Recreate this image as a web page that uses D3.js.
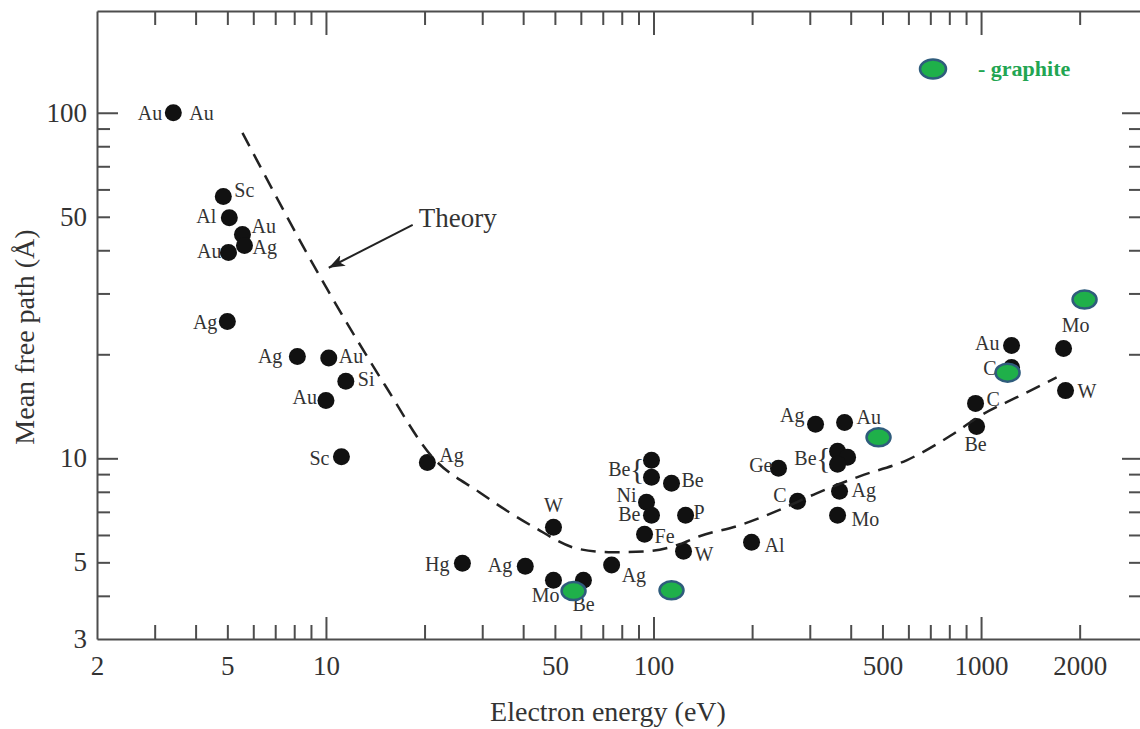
<!DOCTYPE html>
<html>
<head>
<meta charset="utf-8">
<script src="https://cdn.jsdelivr.net/npm/d3@7"></script>
<style>
  body { margin: 0; background: #fff; }
  svg text { font-family: "Liberation Serif", "Times New Roman", serif; }
</style>
</head>
<body>
<script>
var elements = ['Au', 'Sc', 'Al', 'Au', 'Ag', 'Au', 'Ag', 'Ag', 'Au', 'Si', 'Au', 'Sc', 'Ag', 'Hg', 'Ag', 'W', 'Mo', 'Be', 'Ag',
  'Be', 'Be', 'Be', 'Ni', 'Be', 'P', 'Fe', 'W', 'Ge', 'C', 'Al', 'Ag', 'Au', 'Be', 'Be', 'Be', 'Ag', 'Mo', 'C', 'Be', 'Au', 'C', 'Mo', 'W'];
var energies = [3.42, 4.86, 5.07, 5.56, 5.64, 5.04, 5.0, 8.18, 10.2, 11.5, 10.0, 11.15, 20.4, 26.1, 40.6, 49.5, 49.5, 61.1, 74.5,
  98.6, 98.6, 113.5, 95.2, 98.6, 125.3, 93.9, 123.5, 240.8, 275.3, 199.2, 312.4, 383.1, 364.7, 391.3, 364.7, 369.8, 364.7, 962, 969, 1239, 1239, 1786, 1811];
var paths = [100, 57.2, 49.7, 44.4, 41.3, 39.4, 24.9, 19.7, 19.5, 16.7, 14.7, 10.1, 9.73, 4.97, 4.87, 6.32, 4.44, 4.44, 4.91,
  9.87, 8.81, 8.47, 7.46, 6.84, 6.84, 6.03, 5.38, 9.36, 7.51, 5.72, 12.54, 12.7, 10.48, 10.07, 9.61, 8.03, 6.84, 14.42, 12.37, 21.2, 18.3, 20.8, 15.7];

// graphite points
var graphiteEnergies = [57.0, 113.5, 486.4, 1205, 2070];
var graphitePaths = [4.13, 4.15, 11.5, 17.7, 28.8];

// theory curve
var theoryEnergies = [5.56, 10.1, 15.1, 21.1, 29.4, 42.7, 59.4, 75.0, 95.2, 120.1, 138.2, 183.1, 237.4, 314.6, 425.6, 592.4, 801.5, 1011, 1283, 1701];
var theoryPaths = [87.5, 30.8, 16.35, 10.1, 7.98, 6.36, 5.46, 5.35, 5.38, 5.64, 5.95, 6.40, 7.03, 7.92, 8.87, 9.87, 11.58, 13.4, 15.0, 17.14];

var xTickLabels = [2, 5, 10, 50, 100, 500, 1000, 2000];
var yTickLabels = [3, 5, 10, 50, 100];

// label layout: [anchor, dx, dy] per point (null = brace group)
var labelLayout = [
  ['end', -11, 7], ['start', 11, 0], ['end', -13, 5], ['start', 9, -2], ['start', 8, 9], ['end', -7, 5], ['end', -10, 8],
  ['end', -15, 6], ['start', 10, 5], ['start', 12, 5], ['end', -9, 4], ['end', -12, 8], ['start', 12, 0], ['end', -13, 8],
  ['end', -13, 6], ['middle', 0, -15], ['end', 6, 22], ['start', -11, 31], ['start', 10, 17],
  null, null, ['start', 10, 4], ['end', -10, 0], ['end', -11, 6], ['start', 8, 4], ['start', 10, 9], ['start', 11, 10],
  ['end', -6, 4], ['end', -11, 1], ['start', 13, 10], ['end', -11, -2], ['start', 12, 2], null, null, null,
  ['start', 12, 6], ['start', 14, 11], ['start', 11, 3], ['middle', -1, 25], ['end', -12, 4], ['end', -15, 7],
  ['middle', 12, -16], ['start', 12, 7]
];
var braceGroups = [[19, 20], [32, 33, 34]];

var width = 1140, height = 729;
var x = d3.scaleLog().domain([2, 3100]).range([97, 1142]);
var y = d3.scaleLog().domain([3, 197]).range([639, 11]);

var svg = d3.select('body').append('svg')
  .attr('width', width)
  .attr('height', height);

var axisColor = '#4d4d4d', textColor = '#333';

// tick values
var xTicks = [], yTicks = [];
[1, 10, 100, 1000].forEach(function(d) {
  for (var m = 1; m < 10; m++) {
    var v = d * m;
    if (v > 2 && v <= 2000) xTicks.push(v);
    if (v > 3 && v < 197) yTicks.push(v);
  }
});
function isMajor(v) { return Math.abs(Math.log10(v) - Math.round(Math.log10(v))) < 1e-9; }

function styleAxis(g) {
  g.select('.domain').attr('stroke', axisColor).attr('stroke-width', 2);
  g.selectAll('.tick line').attr('stroke', axisColor).attr('stroke-width', 2);
  g.selectAll('.tick text').attr('fill', textColor).style('font-size', '27px')
    .style('font-family', '"Liberation Serif", "Times New Roman", serif');
}

var gx = svg.append('g').attr('transform', 'translate(0,' + y(3) + ')')
  .call(d3.axisBottom(x).tickValues(xTicks.concat([2])).tickSizeInner(-14).tickSizeOuter(0).tickPadding(17)
    .tickFormat(function(d) { return xTickLabels.indexOf(d) >= 0 ? d : ''; }));
styleAxis(gx);
gx.selectAll('.tick line').attr('y2', function(d) { return d === 2 ? 0 : (isMajor(d) ? -22 : -14); });

var gt = svg.append('g').attr('transform', 'translate(0,' + y(197) + ')')
  .call(d3.axisTop(x).tickValues(xTicks).tickSizeInner(-14).tickSizeOuter(0).tickFormat(''));
styleAxis(gt);
gt.selectAll('.tick line').attr('y2', function(d) { return isMajor(d) ? 24 : 14; });

var gy = svg.append('g').attr('transform', 'translate(' + x(2) + ',0)')
  .call(d3.axisLeft(y).tickValues(yTicks.concat([3])).tickSizeInner(-13).tickSizeOuter(0).tickPadding(10)
    .tickFormat(function(d) { return yTickLabels.indexOf(d) >= 0 ? d : ''; }));
styleAxis(gy);
gy.selectAll('.tick line').attr('x2', function(d) { return d === 3 ? 0 : (isMajor(d) ? 21 : 13); });

var gr = svg.append('g').attr('transform', 'translate(' + x(3100) + ',0)')
  .call(d3.axisRight(y).tickValues(yTicks).tickSizeInner(-13).tickSizeOuter(0).tickFormat(''));
styleAxis(gr);
gr.selectAll('.tick line').attr('x2', function(d) { return isMajor(d) ? -20 : -13; });

// axis titles
svg.append('text')
  .attr('x', 608).attr('y', 721)
  .attr('text-anchor', 'middle')
  .attr('fill', textColor)
  .style('font-size', '28px')
  .text('Electron energy (eV)');

svg.append('text')
  .attr('transform', 'translate(34,337) rotate(-90)')
  .attr('text-anchor', 'middle')
  .attr('fill', textColor)
  .style('font-size', '28px')
  .text('Mean free path (Å)');

// black dots
var points = energies.map(function(e, i) { return { e: e, p: paths[i], name: elements[i], i: i }; });

svg.selectAll('circle.pt')
  .data(points)
  .enter()
  .append('circle')
  .attr('class', 'pt')
  .attr('cx', function(d) { return x(d.e); })
  .attr('cy', function(d) { return y(d.p); })
  .attr('r', 8.5)
  .attr('fill', '#111');

// point labels
svg.selectAll('text.lbl')
  .data(points.filter(function(d) { return labelLayout[d.i]; }))
  .enter()
  .append('text')
  .attr('class', 'lbl')
  .attr('x', function(d) { return x(d.e) + labelLayout[d.i][1]; })
  .attr('y', function(d) { return y(d.p) + labelLayout[d.i][2]; })
  .attr('text-anchor', function(d) { return labelLayout[d.i][0]; })
  .attr('fill', textColor)
  .style('font-size', '20px')
  .text(function(d) { return d.name; });

// second Au label at the top point
svg.append('text')
  .attr('x', x(energies[0]) + 16).attr('y', y(paths[0]) + 7)
  .attr('fill', textColor)
  .style('font-size', '20px')
  .text('Au');

// brace groups
braceGroups.forEach(function(grp) {
  var xmin = d3.min(grp, function(i) { return x(energies[i]); });
  var ymid = d3.mean(grp, function(i) { return y(paths[i]); });
  svg.append('text')
    .attr('x', xmin - 7).attr('y', ymid + 10)
    .attr('text-anchor', 'end')
    .attr('fill', textColor)
    .style('font-size', '30px')
    .text('{');
  svg.append('text')
    .attr('x', xmin - 21).attr('y', ymid + 7)
    .attr('text-anchor', 'end')
    .attr('fill', textColor)
    .style('font-size', '20px')
    .text(elements[grp[0]]);
});

// theory curve
var line = d3.line()
  .x(function(d, i) { return x(theoryEnergies[i]); })
  .y(function(d, i) { return y(theoryPaths[i]); })
  .curve(d3.curveMonotoneX);

svg.append('path')
  .datum(theoryEnergies)
  .attr('d', line)
  .attr('fill', 'none')
  .attr('stroke', '#222')
  .attr('stroke-width', 2.5)
  .attr('stroke-dasharray', '15,9');

// graphite ellipses
svg.selectAll('ellipse.gr')
  .data(graphiteEnergies)
  .enter()
  .append('ellipse')
  .attr('class', 'gr')
  .attr('cx', function(d) { return x(d); })
  .attr('cy', function(d, i) { return y(graphitePaths[i]); })
  .attr('rx', 12)
  .attr('ry', 9)
  .attr('fill', '#1fb04a')
  .attr('stroke', '#2f5c7c')
  .attr('stroke-width', 2.5);

// Theory annotation
svg.append('defs').append('marker')
  .attr('id', 'arrow')
  .attr('markerUnits', 'userSpaceOnUse')
  .attr('markerWidth', 18).attr('markerHeight', 12)
  .attr('refX', 16).attr('refY', 6)
  .attr('orient', 'auto')
  .append('path')
  .attr('d', 'M0,0 L16,6 L0,12 L4,6 Z')
  .attr('fill', '#222');

svg.append('line')
  .attr('x1', x(18.4)).attr('y1', y(47.4))
  .attr('x2', x(10.2)).attr('y2', y(35.6))
  .attr('stroke', '#222')
  .attr('stroke-width', 2)
  .attr('marker-end', 'url(#arrow)');

svg.append('text')
  .attr('x', x(19.2)).attr('y', y(46.6))
  .attr('fill', textColor)
  .style('font-size', '27px')
  .text('Theory');

// legend
svg.append('ellipse')
  .attr('cx', 933).attr('cy', 69)
  .attr('rx', 13).attr('ry', 9.5)
  .attr('fill', '#1fb04a')
  .attr('stroke', '#2f5c7c')
  .attr('stroke-width', 2.5);

svg.append('text')
  .attr('x', 978).attr('y', 76)
  .attr('fill', '#22a552')
  .style('font-size', '22px')
  .style('font-weight', 'bold')
  .text('- graphite');
</script>
</body>
</html>
